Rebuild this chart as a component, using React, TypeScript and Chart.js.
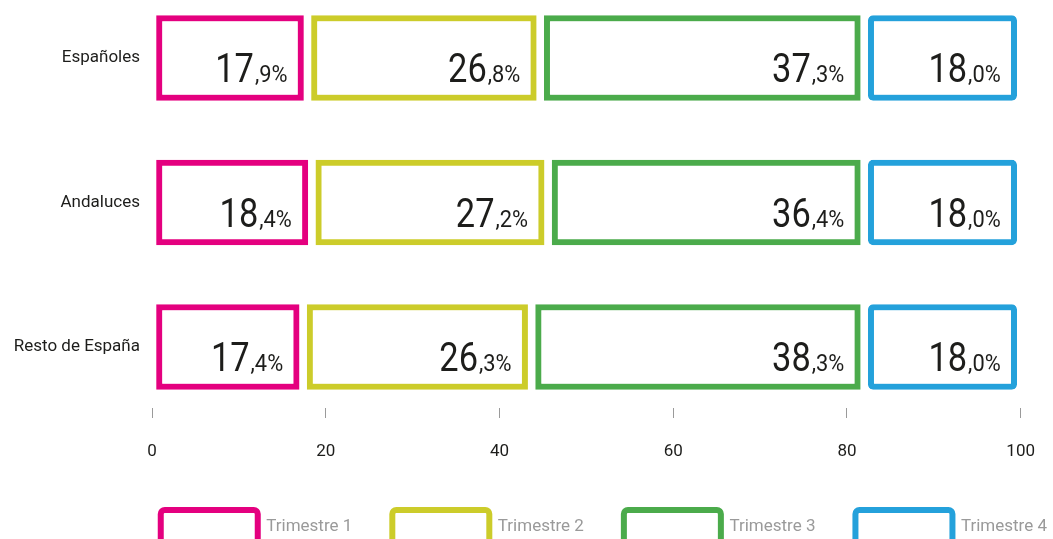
import React, { useEffect, useRef } from 'react';
import { Chart, registerables } from 'chart.js';

Chart.register(...registerables);

const categories = ['Españoles', 'Andaluces', 'Resto de España'];
const seriesNames = ['Trimestre 1', 'Trimestre 2', 'Trimestre 3', 'Trimestre 4'];
const trimestre1 = [17.9, 18.4, 17.4];
const trimestre2 = [26.8, 27.2, 26.3];
const trimestre3 = [37.3, 36.4, 38.3];
const trimestre4 = [18.0, 18.0, 18.0];
const seriesValues = [trimestre1, trimestre2, trimestre3, trimestre4];
const seriesColors = ['#e4007f', '#cccc2a', '#4bab4b', '#24a1db'];
const xTickStep = 20;
const xMin = 0;
const xMax = 100;

const FONT = 'Roboto, "Liberation Sans", sans-serif';

const gapPlugin = {
  id: 'segmentGap',
  afterDatasetsUpdate(chart: any) {
    chart.data.datasets.forEach((_ds: any, i: number) => {
      const meta = chart.getDatasetMeta(i);
      meta.data.forEach((el: any) => {
        el.base += 4;
        el.x -= 4;
      });
    });
  },
};

const valueLabelPlugin = {
  id: 'valueLabels',
  afterDatasetsDraw(chart: any) {
    const ctx = chart.ctx;
    chart.data.datasets.forEach((ds: any, i: number) => {
      const meta = chart.getDatasetMeta(i);
      meta.data.forEach((el: any, j: number) => {
        const v = ds.data[j] as number;
        const [ip, dp] = v.toFixed(1).split('.');
        const small = ',' + dp + '%';
        const right = el.x - 16;
        const baseline = el.y + 24;
        const sxBig = 0.86;
        const sxSmall = 0.95;
        ctx.save();
        ctx.fillStyle = '#1d1d1b';
        ctx.textAlign = 'left';
        ctx.textBaseline = 'alphabetic';
        ctx.font = `400 23px ${FONT}`;
        const ws = ctx.measureText(small).width * sxSmall;
        ctx.font = `400 40px ${FONT}`;
        const wb = ctx.measureText(ip).width * sxBig;
        const x0 = right - ws - wb - 1;
        ctx.save();
        ctx.translate(x0, baseline);
        ctx.scale(sxBig, 1);
        ctx.fillText(ip, 0, 0);
        ctx.restore();
        ctx.save();
        ctx.translate(x0 + wb + 1, baseline);
        ctx.scale(sxSmall, 1);
        ctx.font = `400 23px ${FONT}`;
        ctx.fillText(small, 0, 0);
        ctx.restore();
        ctx.restore();
      });
    });
  },
};

const legendShiftPlugin = {
  id: 'legendShift',
  afterUpdate(chart: any) {
    const l = chart.legend;
    if (l) {
      l.left += 66;
      l.right += 66;
    }
  },
};

export default function App() {
  const ref = useRef<HTMLCanvasElement | null>(null);

  useEffect(() => {
    if (!ref.current) return;
    const chart = new Chart(ref.current, {
      type: 'bar',
      data: {
        labels: categories,
        datasets: seriesNames.map((name, i) => ({
          label: name,
          data: seriesValues[i],
          backgroundColor: '#ffffff',
          borderColor: seriesColors[i],
          borderWidth: 6,
          borderRadius: 5,
          borderSkipped: false,
          barThickness: 85,
          clip: false as any,
        })),
      },
      options: {
        indexAxis: 'y',
        responsive: false,
        animation: false,
        events: [],
        layout: { padding: { top: 58, right: 32, left: 0, bottom: 0 } },
        scales: {
          x: {
            stacked: true,
            min: xMin,
            max: xMax,
            ticks: {
              stepSize: xTickStep,
              padding: 18,
              color: '#1d1d1b',
              font: { family: FONT, size: 17 },
            },
            grid: {
              drawOnChartArea: false,
              drawTicks: true,
              tickLength: 77,
              tickColor: '#9a9a9a',
              tickWidth: 1,
              tickBorderDash: [0, 61, 10, 300],
            },
            border: { display: false },
            afterFit: (s: any) => {
              s.height = 123;
            },
          },
          y: {
            stacked: true,
            offset: false,
            grid: { display: false, drawTicks: false },
            border: { display: false },
            ticks: {
              padding: 12,
              color: '#1d1d1b',
              font: { family: FONT, size: 17 },
            },
            afterFit: (s: any) => {
              s.width = 152;
            },
          },
        },
        plugins: {
          legend: {
            position: 'bottom',
            align: 'end',
            labels: {
              boxWidth: 97,
              boxHeight: 34,
              padding: 40,
              color: '#9a9a9a',
              useBorderRadius: true,
              borderRadius: 4,
              font: { family: FONT, size: 17 },
            },
          },
          tooltip: { enabled: false },
        },
      },
      plugins: [gapPlugin, valueLabelPlugin, legendShiftPlugin],
    } as any);
    return () => chart.destroy();
  }, []);

  return (
    <div style={{ position: 'fixed', left: 0, top: 0, width: 1053, height: 539, overflow: 'hidden', background: '#fff' }}>
      <canvas ref={ref} width={1053} height={554} style={{ display: 'block' }} />
    </div>
  );
}
